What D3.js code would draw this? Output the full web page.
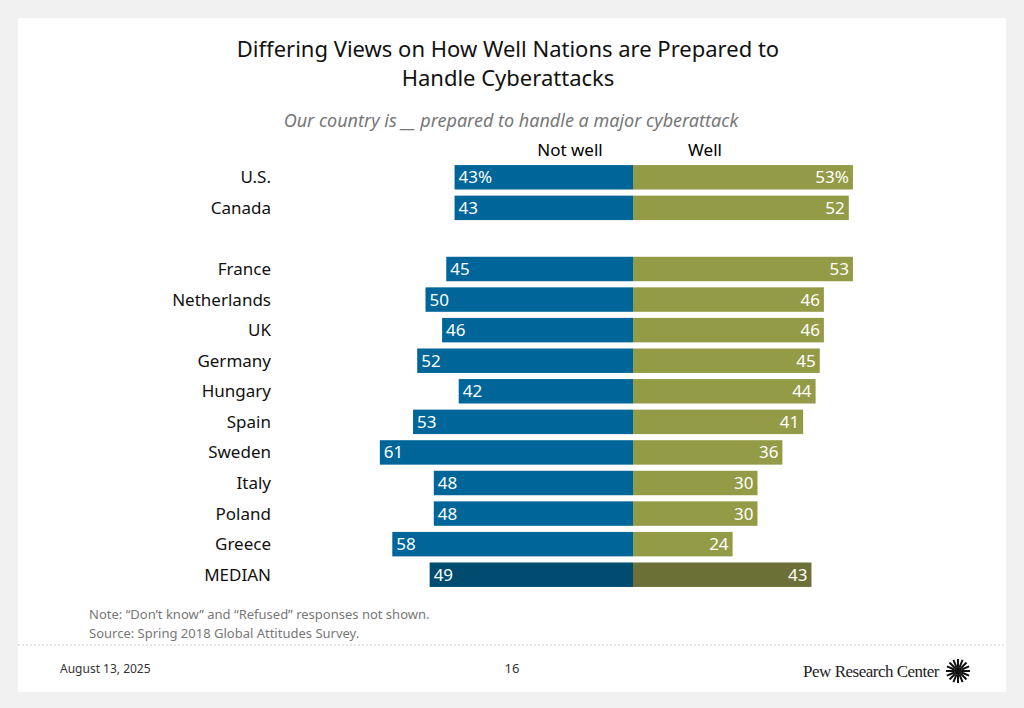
<!DOCTYPE html>
<html><head><meta charset="utf-8">
<script src="https://cdn.jsdelivr.net/npm/d3@7"></script>
<style>body{margin:0;background:#f1f1f1;font-family:"Noto Sans",sans-serif}</style>
</head><body><svg id="c" width="1024" height="708"></svg>
<script>
const countries=["U.S.","Canada","","France","Netherlands","UK ","Germany","Hungary","Spain","Sweden","Italy","Poland","Greece","MEDIAN"];
const notWell=[43,43,null,45,50,46,52,42,53,61,48,48,58,49];
const well=[53,52,null,53,46,46,45,44,41,36,30,30,24,43];
const svg=d3.select("#c");
svg.append("rect").attr("x",18).attr("y",18).attr("width",988).attr("height",674).attr("fill","#fff");
const cx=633, k=4.15;
const xR=d3.scaleLinear().domain([0,100]).range([cx,cx+100*k]);
const xL=d3.scaleLinear().domain([0,100]).range([cx,cx-100*k]);
const y=d3.scaleBand().domain(d3.range(countries.length)).range([162,590]).paddingInner(0.2).paddingOuter(0.1);
const t=svg.append("text").attr("text-anchor","middle").attr("font-size",22).attr("fill","#111");
t.append("tspan").attr("x",508).attr("y",57).text("Differing Views on How Well Nations are Prepared to");
t.append("tspan").attr("x",508).attr("y",86).text("Handle Cyberattacks");
svg.append("text").attr("x",511).attr("y",127).attr("text-anchor","middle").attr("font-size",18).attr("font-style","italic").attr("fill","#777").text("Our country is __ prepared to handle a major cyberattack");
svg.append("text").attr("x",570).attr("y",156).attr("text-anchor","middle").attr("font-size",17).text("Not well");
svg.append("text").attr("x",705).attr("y",156).attr("text-anchor","middle").attr("font-size",17).text("Well");
countries.forEach((c,i)=>{
  if(notWell[i]==null)return;
  const yy=y(i),h=y.bandwidth(),med=c==="MEDIAN";
  svg.append("text").attr("x",271).attr("y",yy+h/2+6).attr("text-anchor","end").attr("font-size",17).attr("fill","#111").text(c);
  svg.append("rect").attr("x",xL(notWell[i])).attr("y",yy).attr("width",cx-xL(notWell[i])).attr("height",h).attr("fill",med?"#004b70":"#006699");
  svg.append("rect").attr("x",cx).attr("y",yy).attr("width",xR(well[i])-cx).attr("height",h).attr("fill",med?"#6b7036":"#949b47");
  svg.append("text").attr("x",xL(notWell[i])+4).attr("y",yy+h/2+6).attr("font-size",17).attr("fill","#fff").text(notWell[i]+(i===0?"%":""));
  svg.append("text").attr("x",xR(well[i])-4).attr("y",yy+h/2+6).attr("text-anchor","end").attr("font-size",17).attr("fill","#fff").text(well[i]+(i===0?"%":""));
});
svg.append("text").attr("x",89).attr("y",619).attr("font-size",13).attr("fill","#777").text("Note: “Don’t know” and “Refused” responses not shown.");
svg.append("text").attr("x",89).attr("y",638).attr("font-size",13).attr("fill","#777").text("Source: Spring 2018 Global Attitudes Survey.");
svg.append("line").attr("x1",18).attr("x2",1006).attr("y1",645).attr("y2",645).attr("stroke","#ccc").attr("stroke-dasharray","2,2");
svg.append("text").attr("x",60).attr("y",673).attr("font-size",12).attr("fill","#333").text("August 13, 2025");
svg.append("text").attr("x",512).attr("y",673).attr("text-anchor","middle").attr("font-size",13).attr("fill","#333").text("16");
svg.append("text").attr("x",939).attr("y",677).attr("text-anchor","end").attr("font-size",17).attr("font-family","Liberation Serif,serif").attr("letter-spacing",-0.5).attr("fill","#222").text("Pew Research Center");
const g=svg.append("g").attr("transform","translate(958,671)");
d3.range(16).forEach(i=>{const a=i*Math.PI/8;g.append("line").attr("x1",4*Math.cos(a)).attr("y1",4*Math.sin(a)).attr("x2",12*Math.cos(a)).attr("y2",12*Math.sin(a)).attr("stroke","#111").attr("stroke-width",2);});
g.append("circle").attr("r",4).attr("fill","#111");
</script></body></html>
